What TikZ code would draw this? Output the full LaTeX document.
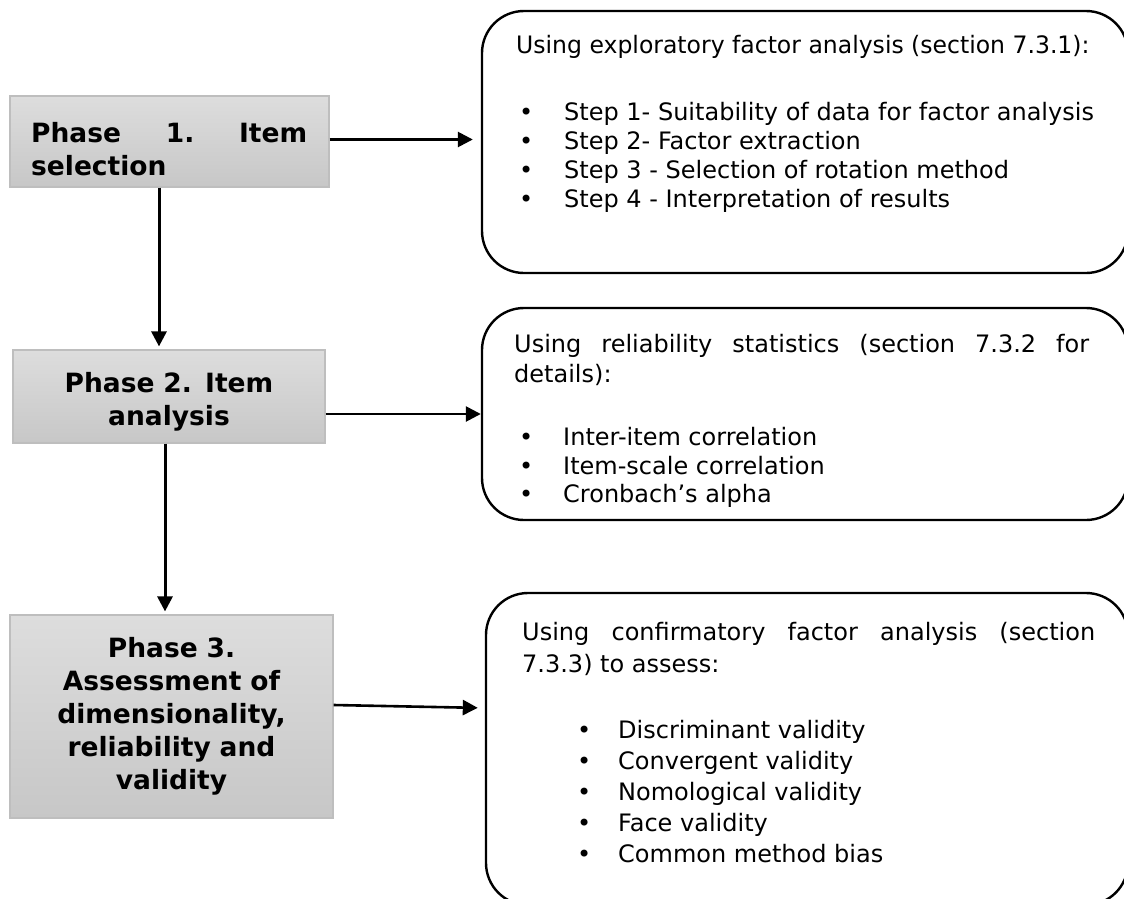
\documentclass[tikz,border=0pt]{standalone}
\usepackage{fontspec}
\setmainfont{DejaVu Sans}
\usetikzlibrary{arrows.meta}
\definecolor{pborder}{RGB}{190,190,190}
\definecolor{ptop}{RGB}{221,221,221}
\definecolor{pbot}{RGB}{199,199,199}
\tikzset{
  phase/.style={draw=pborder, line width=1.2pt, top color=ptop, bottom color=pbot, inner sep=0pt},
  ptext/.style={font=\fontsize{26.5}{33}\selectfont\bfseries, inner sep=0pt},
  rbox/.style={draw=black, line width=2.4pt, rounded corners=42pt, inner sep=0pt},
  body/.style={font=\fontsize{24}{28}\selectfont, inner sep=0pt, anchor=mid west},
  arr/.style={line width=2.6pt, -{Triangle[length=15pt,width=15pt]}},
  varr/.style={line width=3pt, -{Triangle[length=15pt,width=15pt]}}
}
\begin{document}
\begin{tikzpicture}[x=1pt,y=-1pt]
\useasboundingbox (0,0) rectangle (1124,899);
\clip (0,0) rectangle (1124,899);

% phase boxes
\node[phase, minimum width=319pt, minimum height=91pt] (p1) at (169.5,141.5) {};
\node[phase, minimum width=312pt, minimum height=93pt] (p2) at (169,396.5) {};
\node[phase, minimum width=323pt, minimum height=203pt] (p3) at (171.5,716.5) {};
\node[ptext, text width=276pt, align=left, anchor=west] (p1t) at (31,149)
  {\hbox to 276pt{Phase\hfill 1.\hfill Item}\\selection};
\node[ptext, text width=290pt, align=center] (p2t) at (169,402)
  {Phase 2. Item\\analysis};
\node[ptext, text width=300pt, align=center] (p3t) at (171.5,716.5)
  {Phase 3.\\Assessment of\\dimensionality,\\reliability and\\validity};

% rounded boxes
\node[rbox, minimum width=646pt, minimum height=262pt] (bA) at (805,142) {};
\node[rbox, minimum width=646pt, minimum height=212pt] (bB) at (805,414) {};
\node[rbox, minimum width=642pt, minimum height=312pt] (bC) at (807,749) {};

% box A text
\node[body] (tA0) at (516,51) {\scalebox{0.98}[1]{Using exploratory factor analysis (section 7.3.1):}};
\node[body] (bA1) at (519,118) {\textbullet};
\node[body] (sA1) at (564,118) {Step 1- Suitability of data for factor analysis};
\node[body] (bA2) at (519,147) {\textbullet};
\node[body] (sA2) at (564,147) {Step 2- Factor extraction};
\node[body] (bA3) at (519,176) {\textbullet};
\node[body] (sA3) at (564,176) {Step 3 - Selection of rotation method};
\node[body] (bA4) at (519,205) {\textbullet};
\node[body] (sA4) at (564,205) {Step 4 - Interpretation of results};

% box B text
\node[body] (tB0) at (514,350) {\makebox[575pt][s]{Using reliability statistics (section 7.3.2 for}};
\node[body] (tB1) at (514,380) {details):};
\node[body] (bB1) at (519,443) {\textbullet};
\node[body] (sB1) at (563,443) {Inter-item correlation};
\node[body] (bB2) at (519,471.5) {\textbullet};
\node[body] (sB2) at (563,471.5) {Item-scale correlation};
\node[body] (bB3) at (519,500) {\textbullet};
\node[body] (sB3) at (563,500) {Cronbach’s alpha};

% box C text
\node[body] (tC0) at (522,638) {\makebox[573pt][s]{Using confirmatory factor analysis (section}};
\node[body] (tC1) at (522,670) {7.3.3) to assess:};
\node[body] (bC1) at (577,736) {\textbullet};
\node[body] (sC1) at (618,736) {Discriminant validity};
\node[body] (bC2) at (577,767) {\textbullet};
\node[body] (sC2) at (618,767) {Convergent validity};
\node[body] (bC3) at (577,798) {\textbullet};
\node[body] (sC3) at (618,798) {Nomological validity};
\node[body] (bC4) at (577,829) {\textbullet};
\node[body] (sC4) at (618,829) {Face validity};
\node[body] (bC5) at (577,860) {\textbullet};
\node[body] (sC5) at (618,860) {Common method bias};

% connectors
\draw[varr, shorten >=3pt] ([xshift=-10.5pt]p1.south) -- ([xshift=-10pt]p2.north);
\draw[varr, shorten >=3pt] ([xshift=-4pt]p2.south) -- ([xshift=-6.5pt]p3.north);
\draw[arr, shorten >=8pt] ([yshift=2pt]p1.east) -- ([yshift=2.5pt]bA.west);
\draw[arr] (p2.east |- bB.west) -- (bB.west);
\draw[arr, shorten >=7pt] ([yshift=11.5pt]p3.east) -- ([yshift=41pt]bC.west);
\end{tikzpicture}
\end{document}
